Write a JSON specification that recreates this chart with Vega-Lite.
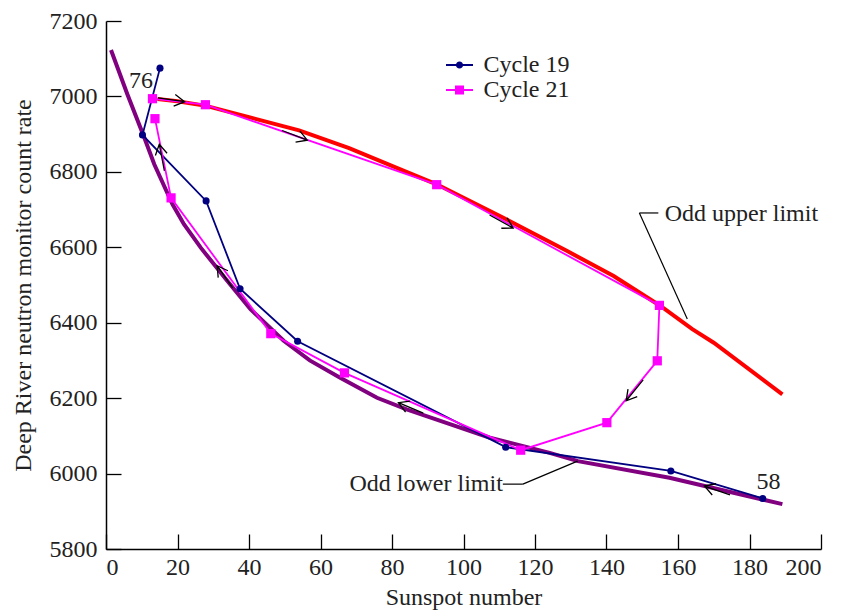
{
  "$schema": "https://vega.github.io/schema/vega-lite/v6.json",
  "width": 715,
  "height": 528,
  "autosize": "none",
  "padding": {"left": 106, "top": 21, "right": 21, "bottom": 67},
  "background": "white",
  "config": {
    "view": {"stroke": null},
    "font": "Liberation Serif",
    "axis": {
      "grid": false,
      "domainColor": "#000",
      "domainWidth": 1.5,
      "tickColor": "#000",
      "tickWidth": 1.3,
      "tickSize": -15,
      "format": "d",
      "labelFont": "Liberation Serif",
      "labelFontSize": 24,
      "labelColor": "#222",
      "titleFont": "Liberation Serif",
      "titleFontSize": 24,
      "titleFontWeight": "normal",
      "titleColor": "#222"
    }
  },
  "datasets": {
    "cycles": [
      {"series": "Cycle 19", "order": 1, "x": 183.7, "y": 5934},
      {"series": "Cycle 19", "order": 2, "x": 158.0, "y": 6007},
      {"series": "Cycle 19", "order": 3, "x": 111.8, "y": 6070},
      {"series": "Cycle 19", "order": 4, "x": 53.6, "y": 6351},
      {"series": "Cycle 19", "order": 5, "x": 37.5, "y": 6490},
      {"series": "Cycle 19", "order": 6, "x": 28.0, "y": 6723},
      {"series": "Cycle 19", "order": 7, "x": 10.2, "y": 6898},
      {"series": "Cycle 19", "order": 8, "x": 15.1, "y": 7075},
      {"series": "Cycle 21", "order": 1, "x": 13.0, "y": 6994},
      {"series": "Cycle 21", "order": 2, "x": 27.8, "y": 6978},
      {"series": "Cycle 21", "order": 3, "x": 92.5, "y": 6766},
      {"series": "Cycle 21", "order": 4, "x": 154.8, "y": 6446},
      {"series": "Cycle 21", "order": 5, "x": 154.2, "y": 6299},
      {"series": "Cycle 21", "order": 6, "x": 140.1, "y": 6135},
      {"series": "Cycle 21", "order": 7, "x": 116.0, "y": 6062},
      {"series": "Cycle 21", "order": 8, "x": 66.7, "y": 6267},
      {"series": "Cycle 21", "order": 9, "x": 46.1, "y": 6371},
      {"series": "Cycle 21", "order": 10, "x": 18.2, "y": 6731},
      {"series": "Cycle 21", "order": 11, "x": 13.7, "y": 6941}
    ],
    "limits": [
      {"limit": "lower", "order": 1, "x": 1.4, "y": 7123},
      {"limit": "lower", "order": 2, "x": 6.0, "y": 7005},
      {"limit": "lower", "order": 3, "x": 10.7, "y": 6891},
      {"limit": "lower", "order": 4, "x": 13.5, "y": 6820},
      {"limit": "lower", "order": 5, "x": 18.6, "y": 6714},
      {"limit": "lower", "order": 6, "x": 21.8, "y": 6661},
      {"limit": "lower", "order": 7, "x": 26.5, "y": 6599},
      {"limit": "lower", "order": 8, "x": 33.9, "y": 6511},
      {"limit": "lower", "order": 9, "x": 40.4, "y": 6436},
      {"limit": "lower", "order": 10, "x": 49.7, "y": 6352},
      {"limit": "lower", "order": 11, "x": 57.0, "y": 6300},
      {"limit": "lower", "order": 12, "x": 65.5, "y": 6254},
      {"limit": "lower", "order": 13, "x": 75.8, "y": 6201},
      {"limit": "lower", "order": 14, "x": 84.1, "y": 6170},
      {"limit": "lower", "order": 15, "x": 96.2, "y": 6131},
      {"limit": "lower", "order": 16, "x": 107.4, "y": 6095},
      {"limit": "lower", "order": 17, "x": 124.1, "y": 6055},
      {"limit": "lower", "order": 18, "x": 132.0, "y": 6033},
      {"limit": "lower", "order": 19, "x": 157.6, "y": 5989},
      {"limit": "lower", "order": 20, "x": 189.2, "y": 5919},
      {"limit": "upper", "order": 1, "x": 14.4, "y": 6993},
      {"limit": "upper", "order": 2, "x": 20.0, "y": 6987},
      {"limit": "upper", "order": 3, "x": 28.0, "y": 6975},
      {"limit": "upper", "order": 4, "x": 40.0, "y": 6945},
      {"limit": "upper", "order": 5, "x": 54.0, "y": 6910},
      {"limit": "upper", "order": 6, "x": 68.0, "y": 6863},
      {"limit": "upper", "order": 7, "x": 82.0, "y": 6808},
      {"limit": "upper", "order": 8, "x": 92.5, "y": 6767},
      {"limit": "upper", "order": 9, "x": 111.0, "y": 6679},
      {"limit": "upper", "order": 10, "x": 129.0, "y": 6590},
      {"limit": "upper", "order": 11, "x": 142.0, "y": 6524},
      {"limit": "upper", "order": 12, "x": 155.0, "y": 6445},
      {"limit": "upper", "order": 13, "x": 164.0, "y": 6383},
      {"limit": "upper", "order": 14, "x": 170.0, "y": 6347},
      {"limit": "upper", "order": 15, "x": 189.2, "y": 6210}
    ],
    "arrows": [
      {"x": 22.0, "y": 6986, "dir": 8},
      {"x": 56.3, "y": 6884, "dir": 21},
      {"x": 113.9, "y": 6651, "dir": 29},
      {"x": 145.5, "y": 6193, "dir": 129},
      {"x": 81.8, "y": 6188, "dir": 203},
      {"x": 167.4, "y": 5967, "dir": 199},
      {"x": 31.1, "y": 6551, "dir": 235},
      {"x": 14.9, "y": 6873, "dir": 259}
    ],
    "leaders": [
      {"x": 149.2, "y": 6691, "x2": 154.5, "y2": 6691},
      {"x": 149.2, "y": 6691, "x2": 162.6, "y2": 6410},
      {"x": 111.0, "y": 5972, "x2": 116.6, "y2": 5972},
      {"x": 116.6, "y": 5972, "x2": 131.9, "y2": 6033}
    ]
  },
  "layer": [
    {
      "data": {"name": "limits"},
      "transform": [{"filter": "datum.limit === 'lower'"}],
      "mark": {"type": "line", "color": "#800080", "strokeWidth": 4},
      "encoding": {
        "x": {"field": "x", "type": "quantitative", "scale": {"domain": [0, 200]}, "axis": {"values": [0, 20, 40, 60, 80, 100, 120, 140, 160, 180, 200], "title": "Sunspot number", "labelPadding": 21, "titlePadding": 6}},
        "y": {"field": "y", "type": "quantitative", "scale": {"domain": [5800, 7200], "zero": false}, "axis": {"values": [5800, 6000, 6200, 6400, 6600, 6800, 7000, 7200], "title": "Deep River neutron monitor count rate", "labelPadding": 24, "titlePadding": 14}},
        "order": {"field": "order", "type": "quantitative"}
      }
    },
    {
      "data": {"name": "limits"},
      "transform": [{"filter": "datum.limit === 'upper'"}],
      "mark": {"type": "line", "color": "#ff0000", "strokeWidth": 4},
      "encoding": {
        "x": {"field": "x", "type": "quantitative"},
        "y": {"field": "y", "type": "quantitative"},
        "order": {"field": "order", "type": "quantitative"}
      }
    },
    {
      "data": {"name": "cycles"},
      "transform": [{"filter": "datum.order < 0"}],
      "mark": {"type": "point", "filled": true, "opacity": 1, "size": 400, "strokeWidth": 0},
      "encoding": {
        "x": {"field": "x", "type": "quantitative"},
        "y": {"field": "y", "type": "quantitative"},
        "color": {
          "field": "series", "type": "nominal",
          "scale": {"domain": ["Cycle 19", "Cycle 21"], "range": ["#000080", "#ff00ff"]},
          "legend": {
            "orient": "none", "legendX": 341.5, "legendY": 32, "title": null, "padding": 0,
            "labelFont": "Liberation Serif", "labelFontSize": 24, "labelColor": "#222",
            "symbolSize": 400, "labelOffset": 12, "rowPadding": 1, "symbolStrokeWidth": 0, "symbolOpacity": 1
          }
        },
        "shape": {
          "field": "series", "type": "nominal",
          "scale": {"domain": ["Cycle 19", "Cycle 21"], "range": [
            "M-1.35,-0.09L1.35,-0.09L1.35,0.09L-1.35,0.09ZM0.36,0A0.36,0.36 0 1,1 -0.36,0A0.36,0.36 0 1,1 0.36,0Z",
            "M-1.35,-0.09L1.35,-0.09L1.35,0.09L-1.35,0.09ZM-0.45,-0.45L0.45,-0.45L0.45,0.45L-0.45,0.45Z"
          ]},
          "legend": {
            "orient": "none", "legendX": 341.5, "legendY": 32, "title": null, "padding": 0,
            "labelFont": "Liberation Serif", "labelFontSize": 24, "labelColor": "#222",
            "symbolSize": 400, "labelOffset": 12, "rowPadding": 1, "symbolStrokeWidth": 0, "symbolOpacity": 1
          }
        }
      }
    },
    {
      "data": {"name": "cycles"},
      "mark": {"type": "line", "strokeWidth": 1.8},
      "encoding": {
        "x": {"field": "x", "type": "quantitative"},
        "y": {"field": "y", "type": "quantitative"},
        "order": {"field": "order", "type": "quantitative"},
        "color": {"field": "series", "type": "nominal"}
      }
    },
    {
      "data": {"name": "cycles"},
      "transform": [{"filter": "datum.series === 'Cycle 19'"}],
      "mark": {"type": "point", "filled": true, "opacity": 1, "shape": "circle", "size": 50},
      "encoding": {
        "x": {"field": "x", "type": "quantitative"},
        "y": {"field": "y", "type": "quantitative"},
        "color": {"field": "series", "type": "nominal"}
      }
    },
    {
      "data": {"name": "cycles"},
      "transform": [{"filter": "datum.series === 'Cycle 21'"}],
      "mark": {"type": "point", "filled": true, "opacity": 1, "shape": "square", "size": 85},
      "encoding": {
        "x": {"field": "x", "type": "quantitative"},
        "y": {"field": "y", "type": "quantitative"},
        "color": {"field": "series", "type": "nominal"}
      }
    },
    {
      "data": {"name": "arrows"},
      "mark": {"type": "point", "shape": "M-1,0L0,0M-0.38,-0.22L0,0L-0.38,0.22", "size": 2916, "filled": false, "stroke": "#000", "strokeWidth": 1.3, "opacity": 1},
      "encoding": {
        "x": {"field": "x", "type": "quantitative"},
        "y": {"field": "y", "type": "quantitative"},
        "angle": {"field": "dir", "type": "quantitative", "scale": null}
      }
    },
    {
      "data": {"name": "leaders"},
      "mark": {"type": "rule", "color": "#000", "strokeWidth": 1.2},
      "encoding": {
        "x": {"field": "x", "type": "quantitative"},
        "y": {"field": "y", "type": "quantitative"},
        "x2": {"field": "x2"},
        "y2": {"field": "y2"}
      }
    },
    {
      "data": {"values": [{"label": "Odd upper limit", "x": 156.3, "y": 6671}]},
      "mark": {"type": "text", "align": "left", "baseline": "alphabetic", "font": "Liberation Serif", "fontSize": 24, "color": "#222"},
      "encoding": {
        "x": {"field": "x", "type": "quantitative"},
        "y": {"field": "y", "type": "quantitative"},
        "text": {"field": "label"}
      }
    },
    {
      "data": {"values": [{"label": "Odd lower limit", "x": 111.0, "y": 5955}]},
      "mark": {"type": "text", "align": "right", "baseline": "alphabetic", "font": "Liberation Serif", "fontSize": 24, "color": "#222"},
      "encoding": {
        "x": {"field": "x", "type": "quantitative"},
        "y": {"field": "y", "type": "quantitative"},
        "text": {"field": "label"}
      }
    },
    {
      "data": {"values": [{"label": "76", "x": 9.8, "y": 7023}, {"label": "58", "x": 185.3, "y": 5958}]},
      "mark": {"type": "text", "align": "center", "baseline": "alphabetic", "font": "Liberation Serif", "fontSize": 24, "color": "#222"},
      "encoding": {
        "x": {"field": "x", "type": "quantitative"},
        "y": {"field": "y", "type": "quantitative"},
        "text": {"field": "label"}
      }
    }
  ]
}
